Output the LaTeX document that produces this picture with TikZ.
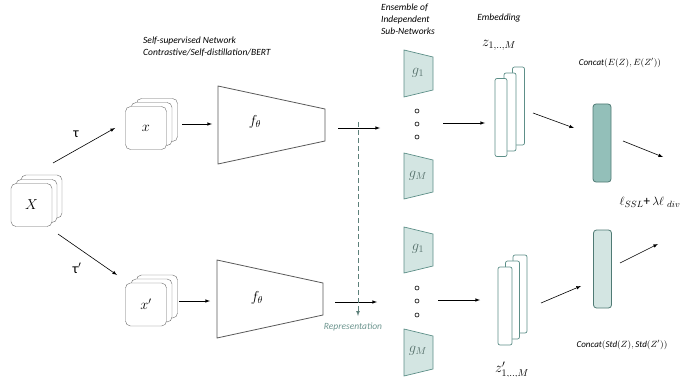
\documentclass[tikz,border=0pt]{standalone}
\usepackage{amsmath}
\usepackage{fontspec}
\setmainfont{Carlito}
\usepackage{tikz}
\usetikzlibrary{positioning,arrows}
\definecolor{tealline}{HTML}{5D8F88}
\definecolor{tealfill}{HTML}{D3E5E2}
\definecolor{tealdark}{HTML}{93BFB9}
\definecolor{reprcol}{HTML}{6E9690}
\definecolor{cardline}{HTML}{6B6B6B}
\definecolor{glabel}{HTML}{56706B}

\begin{document}
\begin{tikzpicture}[x=1pt,y=-1pt,>=latex,
	card/.style={draw=cardline,fill=white,rounded corners=5pt,minimum width=41pt,minimum height=43pt,inner sep=0pt,font=\fontsize{14}{16}\selectfont},
	emb/.style={draw=tealline,fill=white,rounded corners=2pt,minimum width=12pt,minimum height=78pt,inner sep=0pt,line width=0.7pt},
	bar/.style={draw=tealline!85!black,rounded corners=3pt,minimum width=18pt,minimum height=78pt,inner sep=0pt,line width=0.8pt},
	caption/.style={font=\fontsize{9.5}{12}\selectfont\itshape,align=left,inner sep=0pt},
	mlabel/.style={font=\fontsize{14}{16}\selectfont,inner sep=0pt},
	dot/.style={circle,draw=black,line width=0.6pt,minimum size=4pt,inner sep=0pt},
	arrow/.style={->,line width=0.6pt},
	sub/.style={draw=tealline,fill=tealfill,line width=0.7pt},
	enc/.style={draw=black!65,line width=0.8pt}]
		\useasboundingbox (0,0) rectangle (685,377);

		%input image
		\node[card] (n1) at (41.5,196.5) {};
		\node[card] (n2) at (36.5,201) {};
		\node[card] (n3) at (31.5,205) {$X$};

		%augmented views
		\node[card] (n4) at (157,120) {};
		\node[card] (n5) at (151.5,124) {};
		\node[card] (n6) at (146,128) {$x$};
		\node[card] (n7) at (157,296.5) {};
		\node[card] (n8) at (151.5,300.5) {};
		\node[card] (n9) at (146,304.5) {$x'$};
		\node[mlabel] (n10) at (76,134) {τ};
		\node[mlabel] (n11) at (77,268) {τ$'$};

		%encoders
		\draw[enc] (218,86) -- (325,109) -- (325,141) -- (218,164) -- cycle;
		\draw[enc] (217,260) -- (323,283) -- (323,315) -- (217,338) -- cycle;
		\node[mlabel] (n12) at (255,122) {$f_\theta$};
		\node[mlabel] (n13) at (257,298) {$f_\theta$};
		\node[caption,anchor=north west] (n14) at (143,37) {Self-supervised Network\\Contrastive/Self-distillation/BERT};

		%sub-networks
		\draw[sub] (404,50) -- (433,57) -- (433,90) -- (404,97) -- cycle;
		\draw[sub] (404,153) -- (433,160) -- (433,192) -- (404,199) -- cycle;
		\draw[sub] (404,227) -- (433,234) -- (433,266) -- (404,273) -- cycle;
		\draw[sub] (404,329) -- (433,336) -- (433,369) -- (404,376) -- cycle;
		\node[mlabel,text=glabel] (n15) at (418,73) {$g_1$};
		\node[mlabel,text=glabel] (n16) at (418,176) {$g_M$};
		\node[mlabel,text=glabel] (n17) at (418,249) {$g_1$};
		\node[mlabel,text=glabel] (n18) at (418,351) {$g_M$};
		\node[dot] (n19) at (417,111) {};
		\node[dot] (n20) at (417,124) {};
		\node[dot] (n21) at (417,137) {};
		\node[dot] (n22) at (417,288) {};
		\node[dot] (n23) at (417,301) {};
		\node[dot] (n24) at (417,315) {};
		\node[caption,anchor=north west] (n25) at (381,4) {Ensemble of\\Independent\\Sub-Networks};

		%embeddings
		\node[emb] (n26) at (518.5,106) {};
		\node[emb] (n27) at (510,112) {};
		\node[emb] (n28) at (501,117.5) {};
		\node[emb,minimum width=14pt] (n29) at (520,294) {};
		\node[emb,minimum width=14pt] (n30) at (512.5,300) {};
		\node[emb,minimum width=14pt] (n31) at (505,306) {};
		\node[caption] (n32) at (499,18) {Embedding};
		\node[mlabel] (n33) at (499,45) {$z_{1,..,M}$};
		\node[mlabel] (n34) at (512,370) {$z'_{1,..,M}$};

		%concatenation
		\node[bar,fill=tealdark] (n35) at (602,143) {};
		\node[bar,fill=tealfill] (n36) at (602.5,269) {};
		\node[mlabel,font=\fontsize{9}{11}\selectfont] (n37) at (620,63) {\textit{Concat}$(E(Z),E(Z'))$};
		\node[mlabel,font=\fontsize{9}{11}\selectfont] (n38) at (622,345) {\textit{Concat}$(\textit{Std}(Z),\textit{Std}(Z'))$};
		\node[mlabel,font=\fontsize{13}{15}\selectfont] (n39) at (650,202) {$\ell_{SSL}$+\,$\lambda\ell_{\ div}$};
		\node[caption,text=reprcol] (n40) at (353,327) {Representation};

		%arrow ends
		\coordinate (c1) at (53,163);
		\coordinate (c2) at (115,128);
		\coordinate (c3) at (58,234);
		\coordinate (c4) at (117,275);
		\coordinate (c5) at (182,124);
		\coordinate (c6) at (212,124);
		\coordinate (c7) at (179,301);
		\coordinate (c8) at (210,301);
		\coordinate (c9) at (338,128);
		\coordinate (c10) at (380,128);
		\coordinate (c11) at (335,302);
		\coordinate (c12) at (377,302);
		\coordinate (c13) at (358,122);
		\coordinate (c14) at (358,316);
		\coordinate (c15) at (443,123);
		\coordinate (c16) at (485,123);
		\coordinate (c17) at (438,300);
		\coordinate (c18) at (480,300);
		\coordinate (c19) at (533,113);
		\coordinate (c20) at (574,128);
		\coordinate (c21) at (541,303);
		\coordinate (c22) at (581,286);
		\coordinate (c23) at (623,141);
		\coordinate (c24) at (663,157);
		\coordinate (c25) at (620,263);
		\coordinate (c26) at (658,244);

		%edges
		\draw[arrow] (c1) -- (c2);
		\draw[arrow] (c3) -- (c4);
		\draw[arrow] (c5) -- (c6);
		\draw[arrow] (c7) -- (c8);
		\draw[arrow] (c9) -- (c10);
		\draw[arrow] (c11) -- (c12);
		\draw[->,dashed,draw=reprcol!85!black,line width=0.7pt,dash pattern=on 5pt off 3pt] (c13) -- (c14);
		\draw[arrow] (c15) -- (c16);
		\draw[arrow] (c17) -- (c18);
		\draw[arrow] (c19) -- (c20);
		\draw[arrow] (c21) -- (c22);
		\draw[arrow] (c23) -- (c24);
		\draw[arrow] (c25) -- (c26);
	\end{tikzpicture}
\end{document}
